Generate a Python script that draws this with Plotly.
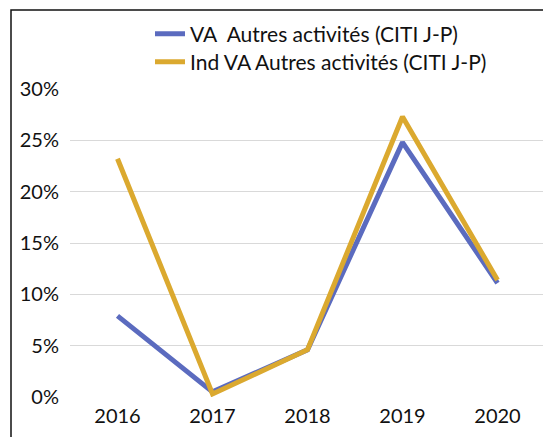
import plotly.graph_objects as go

years = ["2016", "2017", "2018", "2019", "2020"]
va_autres = [0.079, 0.005, 0.046, 0.248, 0.111]
ind_va_autres = [0.232, 0.003, 0.046, 0.273, 0.114]
y_ticks = [0, 0.05, 0.10, 0.15, 0.20, 0.25, 0.30]
y_tick_labels = ["0%", "5%", "10%", "15%", "20%", "25%", "30%"]

FONT = "Lato, Open Sans, sans-serif"
OFF = 8  # default page body margin
W, H = 551 - OFF, 437 - OFF
L = 70 - OFF
T = 89 - OFF
R = W - (545 - OFF)
B = H - (397 - OFF)
PW, PH = W - L - R, H - T - B

def px_x(p):  # page pixel -> paper x
    return (p - OFF - L) / PW

def px_y(p):  # page pixel -> paper y
    return (H - B - (p - OFF)) / PH

fig = go.Figure()
fig.add_trace(go.Scatter(
    x=years, y=va_autres, mode="lines",
    name="VA  Autres activités (CITI J-P)",
    line=dict(color="#5b6bbf", width=5), legend="legend"))
fig.add_trace(go.Scatter(
    x=years, y=ind_va_autres, mode="lines",
    name="Ind VA Autres activités (CITI J-P)",
    line=dict(color="#dba92f", width=5), legend="legend2"))

leg_common = dict(font=dict(family=FONT, size=21, color="#111"),
                  bgcolor="rgba(0,0,0,0)", xanchor="left", yanchor="middle")
fig.update_layout(
    width=W, height=H,
    margin=dict(l=L, r=R, t=T, b=B, autoexpand=False),
    paper_bgcolor="white", plot_bgcolor="white",
    showlegend=True,
    legend=dict(x=px_x(150), y=px_y(34), **leg_common),
    legend2=dict(x=px_x(150), y=px_y(62), **leg_common),
    xaxis=dict(type="category", range=[-0.5, 4.5], showgrid=False,
               showline=False, ticks="", ticklabelstandoff=5,
               tickfont=dict(family=FONT, size=20, color="#111")),
    yaxis=dict(range=[0, 0.30], tickvals=y_ticks, ticktext=y_tick_labels,
               showgrid=True, gridcolor="#d9d9d9", gridwidth=1,
               zeroline=False, showline=False, ticks="",
               ticklabelstandoff=10,
               tickfont=dict(family=FONT, size=20, color="#111")),
    shapes=[dict(type="rect", xref="paper", yref="paper",
                 x0=px_x(11), x1=px_x(600), y0=px_y(10), y1=px_y(480),
                 line=dict(color="#111", width=1.5), fillcolor="rgba(0,0,0,0)",
                 layer="above")],
)
fig.write_html("out.html")
